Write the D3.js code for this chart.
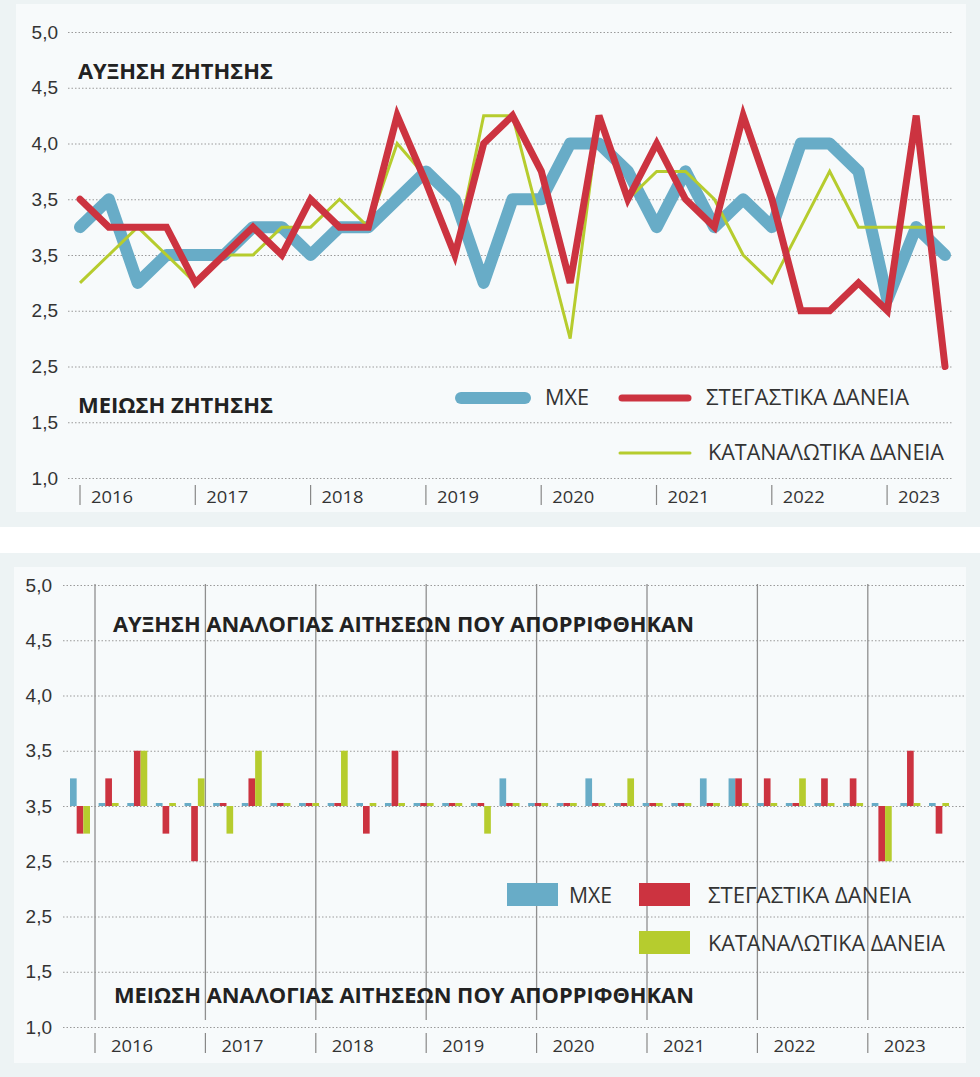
<!DOCTYPE html>
<html>
<head>
<meta charset="utf-8">
<script src="https://cdn.jsdelivr.net/npm/d3@7"></script>
<style>
  body { margin: 0; background: #fff; }
  svg { display: block; font-family: "Open Sans", "Noto Sans", sans-serif; }
</style>
</head>
<body>
<div id="chart"></div>
<script>
// quarters 2016Q1 .. 2023Q3
const quarters = ["2016Q1", "2016Q2", "2016Q3", "2016Q4", "2017Q1", "2017Q2", "2017Q3", "2017Q4",
    "2018Q1", "2018Q2", "2018Q3", "2018Q4", "2019Q1", "2019Q2", "2019Q3", "2019Q4",
    "2020Q1", "2020Q2", "2020Q3", "2020Q4", "2021Q1", "2021Q2", "2021Q3", "2021Q4",
    "2022Q1", "2022Q2", "2022Q3", "2022Q4", "2023Q1", "2023Q2", "2023Q3"];
const years = ["2016", "2017", "2018", "2019", "2020", "2021", "2022", "2023"];

const yTicks = [1, 1.5, 2, 2.5, 3, 3.5, 4, 4.5, 5];
const yTickLabels = ["1,0", "1,5", "2,5", "2,5", "3,5", "3,5", "4,0", "4,5", "5,0"];

// top chart: demand
const mxeDemand = [3.25, 3.5, 2.75, 3.0, 3.0, 3.0, 3.25, 3.25, 3.0, 3.25, 3.25, 3.5, 3.75, 3.5, 2.75, 3.5,
    3.5, 4.0, 4.0, 3.75, 3.25, 3.75, 3.25, 3.5, 3.25, 4.0, 4.0, 3.75, 2.6, 3.25, 3.0];
const housingDemand = [3.5, 3.25, 3.25, 3.25, 2.75, 3.0, 3.25, 3.0, 3.5, 3.25, 3.25, 4.25, 3.65, 3.0, 4.0, 4.25,
    3.75, 2.75, 4.25, 3.5, 4.0, 3.5, 3.25, 4.25, 3.5, 2.5, 2.5, 2.75, 2.5, 4.25, 2.0];
const consumerDemand = [2.75, 3.0, 3.25, 3.0, 2.75, 3.0, 3.0, 3.25, 3.25, 3.5, 3.25, 4.0, 3.7, 3.0, 4.25, 4.25,
    3.25, 2.25, 4.25, 3.5, 3.75, 3.75, 3.5, 3.0, 2.75, 3.25, 3.75, 3.25, 3.25, 3.25, 3.25];

// bottom chart: share of rejected applications (baseline 3)
const barBase = 3;
const mxeRejected = [3.25, 3, 3, 3, 3, 3, 3, 3, 3, 3, 3, 3, 3, 3, 3, 3.25,
    3, 3, 3.25, 3, 3, 3, 3.25, 3.25, 3, 3, 3, 3, 3, 3, 3];
const housingRejected = [2.75, 3.25, 3.5, 2.75, 2.5, 3, 3.25, 3, 3, 3, 2.75, 3.5, 3, 3, 3, 3,
    3, 3, 3, 3, 3, 3, 3, 3.25, 3.25, 3, 3.25, 3.25, 2.5, 3.5, 2.75];
const consumerRejected = [2.75, 3, 3.5, 3, 3.25, 2.75, 3.5, 3, 3, 3.5, 3, 3, 3, 3, 2.75, 3,
    3, 3, 3, 3.25, 3, 3, 3, 3, 3, 3.25, 3, 3, 2.5, 3, 3];

const seriesNames = ["ΜΧΕ", "ΣΤΕΓΑΣΤΙΚΑ ΔΑΝΕΙΑ", "ΚΑΤΑΝΑΛΩΤΙΚΑ ΔΑΝΕΙΑ"];
const colors = { mxe: "#68acc7", housing: "#cc3340", consumer: "#b6cc2e" };

const svg = d3.select("#chart").append("svg")
    .attr("width", 980)
    .attr("height", 1077);

// panel backgrounds
svg.append("rect").attr("x", 0).attr("y", 0).attr("width", 980).attr("height", 527).attr("fill", "#edf3f4");
svg.append("rect").attr("x", 16).attr("y", 4).attr("width", 950).attr("height", 508).attr("fill", "#f7fafb");
svg.append("rect").attr("x", 0).attr("y", 553).attr("width", 980).attr("height", 524).attr("fill", "#edf3f4");
svg.append("rect").attr("x", 14).attr("y", 567).attr("width", 952).attr("height", 496).attr("fill", "#f7fafb");

function styleGrid(g) {
    g.select(".domain").remove();
    g.selectAll(".tick line")
        .attr("stroke", "#9a9a9a")
        .attr("stroke-width", 1)
        .attr("stroke-dasharray", "1.5,2");
    g.selectAll(".tick text")
        .attr("fill", "#333")
        .style("font-size", "19px");
}

// ---------- top chart ----------
let topChart = svg.append("g").attr("id", "topChart");
let x1 = d3.scalePoint().domain(quarters).range([80, 945]);
let y1 = d3.scaleLinear().domain([1, 5]).range([478, 32]);

topChart.append("g")
    .attr("transform", "translate(68,0)")
    .call(d3.axisLeft(y1).tickValues(yTicks).tickSize(-885).tickPadding(10)
        .tickFormat((d, i) => yTickLabels[i]))
    .call(styleGrid);

let yearBand1 = d3.scaleBand().domain(years).range([80, 80 + 8 * 115.3]);
let topYears = topChart.selectAll(".topYear").data(years).join("g")
    .attr("class", "topYear")
    .attr("transform", d => "translate(" + yearBand1(d) + ",0)");
topYears.append("line")
    .attr("y1", 485).attr("y2", 505)
    .attr("stroke", "#888").attr("stroke-width", 1.2);
topYears.append("text")
    .attr("x", 11).attr("y", 503)
    .attr("textLength", 42).attr("lengthAdjust", "spacingAndGlyphs")
    .style("font-size", "17px").attr("fill", "#333")
    .text(d => d);

let line1 = d3.line().x((d, i) => x1(quarters[i])).y(d => y1(d));

topChart.append("path").datum(mxeDemand)
    .attr("d", line1).attr("fill", "none")
    .attr("stroke", colors.mxe).attr("stroke-width", 12)
    .attr("stroke-linejoin", "round").attr("stroke-linecap", "round");
topChart.append("path").datum(consumerDemand)
    .attr("d", line1).attr("fill", "none")
    .attr("stroke", colors.consumer).attr("stroke-width", 3);
topChart.append("path").datum(housingDemand)
    .attr("d", line1).attr("fill", "none")
    .attr("stroke", colors.housing).attr("stroke-width", 7)
    .attr("stroke-linecap", "round");

// titles
topChart.append("text").attr("x", 78).attr("y", 79)
    .attr("textLength", 195).attr("lengthAdjust", "spacingAndGlyphs")
    .style("font-size", "22px").style("font-weight", "bold").attr("fill", "#222")
    .text("ΑΥΞΗΣΗ ΖΗΤΗΣΗΣ");
topChart.append("text").attr("x", 78).attr("y", 413)
    .attr("textLength", 195).attr("lengthAdjust", "spacingAndGlyphs")
    .style("font-size", "22px").style("font-weight", "bold").attr("fill", "#222")
    .text("ΜΕΙΩΣΗ ΖΗΤΗΣΗΣ");

// legend (lines)
let legTop = [
    { name: seriesNames[0], color: colors.mxe, w: 12, x: 461, x2: 525, y: 398, tl: 44 },
    { name: seriesNames[1], color: colors.housing, w: 7, x: 622, x2: 688, y: 398, tl: 203 },
    { name: seriesNames[2], color: colors.consumer, w: 3, x: 620, x2: 690, y: 453, tl: 236 }
];
let lt = topChart.selectAll(".legTop").data(legTop).join("g").attr("class", "legTop");
lt.append("line")
    .attr("x1", d => d.x).attr("x2", d => d.x2)
    .attr("y1", d => d.y).attr("y2", d => d.y)
    .attr("stroke", d => d.color).attr("stroke-width", d => d.w)
    .attr("stroke-linecap", "round");
lt.append("text")
    .attr("x", d => d.x2 + (d.w > 10 ? 20 : 18)).attr("y", d => d.y + 7)
    .attr("textLength", d => d.tl).attr("lengthAdjust", "spacingAndGlyphs")
    .style("font-size", "21px").attr("fill", "#333")
    .text(d => d.name);

// ---------- bottom chart ----------
let bottomChart = svg.append("g").attr("id", "bottomChart");
let x2 = d3.scalePoint().domain(quarters).range([80, 939]);
let y2 = d3.scaleLinear().domain([1, 5]).range([1027, 585]);

bottomChart.append("g")
    .attr("transform", "translate(63,0)")
    .call(d3.axisLeft(y2).tickValues(yTicks).tickSize(-902).tickPadding(11)
        .tickFormat((d, i) => yTickLabels[i]))
    .call(styleGrid);

let yearBand2 = d3.scaleBand().domain(years).range([95, 95 + 8 * 110.4]);
let botYears = bottomChart.selectAll(".botYear").data(years).join("g")
    .attr("class", "botYear")
    .attr("transform", d => "translate(" + yearBand2(d) + ",0)");
botYears.append("line")
    .attr("y1", 584).attr("y2", 1020)
    .attr("stroke", "#8f8f8f").attr("stroke-width", 1.3);
botYears.append("line")
    .attr("y1", 1033).attr("y2", 1053)
    .attr("stroke", "#888").attr("stroke-width", 1.2);
botYears.append("text")
    .attr("x", 16).attr("y", 1052)
    .attr("textLength", 42).attr("lengthAdjust", "spacingAndGlyphs")
    .style("font-size", "17px").attr("fill", "#333")
    .text(d => d);

// grouped bars
let barKeys = ["mxe", "housing", "consumer"];
let inner = d3.scaleBand().domain(barKeys).range([-10, 10]);
let barData = [];
quarters.forEach((q, i) => {
    barData.push({ q: q, key: "mxe", v: mxeRejected[i] });
    barData.push({ q: q, key: "housing", v: housingRejected[i] });
    barData.push({ q: q, key: "consumer", v: consumerRejected[i] });
});
bottomChart.selectAll(".bar").data(barData).join("rect")
    .attr("class", "bar")
    .attr("x", d => x2(d.q) + inner(d.key))
    .attr("width", inner.bandwidth())
    .attr("y", d => d.v > barBase ? y2(d.v) : (d.v < barBase ? y2(barBase) : y2(barBase) - 3))
    .attr("height", d => d.v === barBase ? 3 : Math.abs(y2(d.v) - y2(barBase)))
    .attr("fill", d => colors[d.key]);

bottomChart.append("text").attr("x", 113).attr("y", 632)
    .attr("textLength", 581).attr("lengthAdjust", "spacingAndGlyphs")
    .style("font-size", "22px").style("font-weight", "bold").attr("fill", "#222")
    .text("ΑΥΞΗΣΗ ΑΝΑΛΟΓΙΑΣ ΑΙΤΗΣΕΩΝ ΠΟΥ ΑΠΟΡΡΙΦΘΗΚΑΝ");
bottomChart.append("text").attr("x", 114).attr("y", 1003)
    .attr("textLength", 580).attr("lengthAdjust", "spacingAndGlyphs")
    .style("font-size", "22px").style("font-weight", "bold").attr("fill", "#222")
    .text("ΜΕΙΩΣΗ ΑΝΑΛΟΓΙΑΣ ΑΙΤΗΣΕΩΝ ΠΟΥ ΑΠΟΡΡΙΦΘΗΚΑΝ");

// legend (boxes)
let legBot = [
    { name: seriesNames[0], color: colors.mxe, x: 507, y: 883, tl: 43 },
    { name: seriesNames[1], color: colors.housing, x: 639, y: 883, tl: 203 },
    { name: seriesNames[2], color: colors.consumer, x: 639, y: 931, tl: 237 }
];
let lb = bottomChart.selectAll(".legBot").data(legBot).join("g").attr("class", "legBot");
lb.append("rect")
    .attr("x", d => d.x).attr("y", d => d.y)
    .attr("width", 51).attr("height", 23)
    .attr("fill", d => d.color);
lb.append("text")
    .attr("x", d => d.x + 51 + (d.x < 600 ? 11 : 18)).attr("y", d => d.y + 20)
    .attr("textLength", d => d.tl).attr("lengthAdjust", "spacingAndGlyphs")
    .style("font-size", "21px").attr("fill", "#333")
    .text(d => d.name);
</script>
</body>
</html>
